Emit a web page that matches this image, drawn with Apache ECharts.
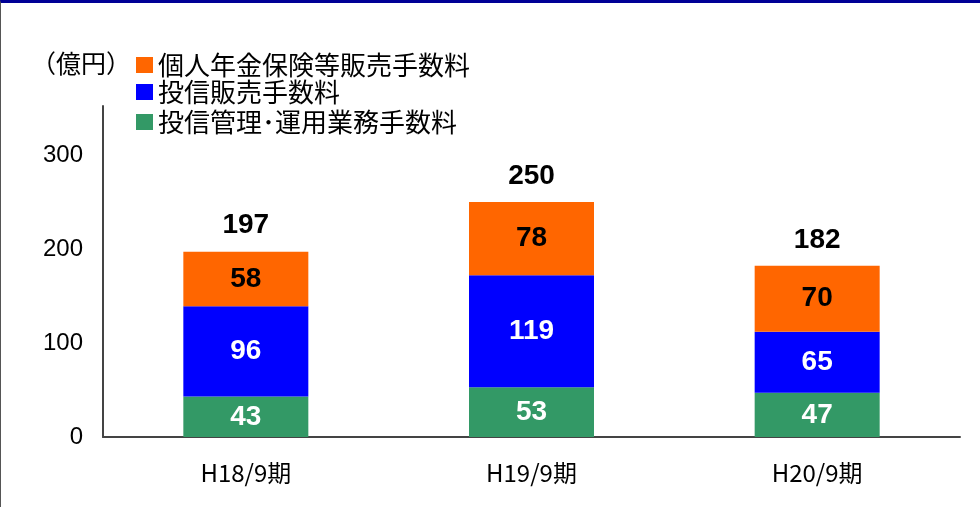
<!DOCTYPE html>
<html>
<head>
<meta charset="utf-8">
<script src="https://cdn.jsdelivr.net/npm/echarts@6/dist/echarts.min.js"></script>
<style>
html,body{margin:0;padding:0;background:#fff;}
#chart{position:absolute;left:0;top:0;width:980px;height:507px;}
#frame{position:absolute;left:0;top:0;width:980px;height:507px;box-sizing:border-box;border-top:3px solid #000096;border-left:1px solid #555;pointer-events:none;}
</style>
</head>
<body>
<div id="chart"></div>
<div id="frame"></div>
<script>
var categories = ['H18/9期', 'H19/9期', 'H20/9期'];
var seriesNames = ['投信管理･運用業務手数料', '投信販売手数料', '個人年金保険等販売手数料'];
var greenValues = [43, 53, 47];
var blueValues = [96, 119, 65];
var orangeValues = [58, 78, 70];
var totals = [197, 250, 182];
var yTicks = [0, 100, 200, 300];

var chart = echarts.init(document.getElementById('chart'));
var FONT = '"Liberation Sans", Arial, "Noto Sans CJK JP", sans-serif';
var CJK = '"Noto Sans CJK JP", "Liberation Sans", sans-serif';

function legendFor(name, top) {
  return {
    data: [name], orient: 'vertical', left: 136, top: top, padding: 0,
    itemWidth: 17, itemHeight: 16, icon: 'rect', selectedMode: false,
    textStyle: {fontSize: 26, color: '#000', fontFamily: CJK, lineHeight: 26}
  };
}

var option = {
  animation: false,
  title: {
    text: '（億円）', left: 31, top: 51, padding: 0,
    textStyle: {fontSize: 25, fontWeight: 'normal', color: '#000', fontFamily: CJK}
  },
  legend: [
    legendFor(seriesNames[2], 52),
    legendFor(seriesNames[1], 79),
    legendFor(seriesNames[0], 109)
  ],
  grid: {left: 103, right: 20, top: 106, bottom: 70},
  xAxis: {
    type: 'category', data: categories,
    axisLine: {lineStyle: {color: '#444', width: 2}},
    axisTick: {show: false},
    axisLabel: {fontSize: 24, color: '#000', margin: 24, fontFamily: CJK}
  },
  yAxis: {
    type: 'value', min: 0, max: 352, interval: 100,
    axisLine: {show: true, lineStyle: {color: '#444', width: 2}},
    axisTick: {show: false},
    splitLine: {show: false},
    axisLabel: {
      fontSize: 24, color: '#000', margin: 20, fontFamily: FONT, showMaxLabel: false,
      formatter: function (v) { return yTicks.indexOf(v) >= 0 ? String(v) : ''; }
    }
  },
  series: [
    {
      name: seriesNames[0], type: 'bar', stack: 'a', barWidth: 125, data: greenValues,
      itemStyle: {color: '#339966'},
      label: {show: true, position: 'inside', color: '#fff', fontSize: 28, fontWeight: 'bold', fontFamily: FONT}
    },
    {
      name: seriesNames[1], type: 'bar', stack: 'a', data: blueValues,
      itemStyle: {color: '#0000FF'},
      label: {show: true, position: 'inside', color: '#fff', fontSize: 28, fontWeight: 'bold', fontFamily: FONT}
    },
    {
      name: seriesNames[2], type: 'bar', stack: 'a', data: orangeValues,
      itemStyle: {color: '#FF6600'},
      label: {show: true, position: 'inside', color: '#000', fontSize: 28, fontWeight: 'bold', fontFamily: FONT}
    },
    {
      name: 'total', type: 'bar', stack: 'a', data: totals.map(function () { return 0; }),
      itemStyle: {color: 'transparent'},
      label: {
        show: true, position: 'top', distance: 12, color: '#000', fontSize: 28, fontWeight: 'bold', fontFamily: FONT,
        formatter: function (p) { return String(totals[p.dataIndex]); }
      }
    }
  ]
};
chart.setOption(option);
</script>
</body>
</html>
